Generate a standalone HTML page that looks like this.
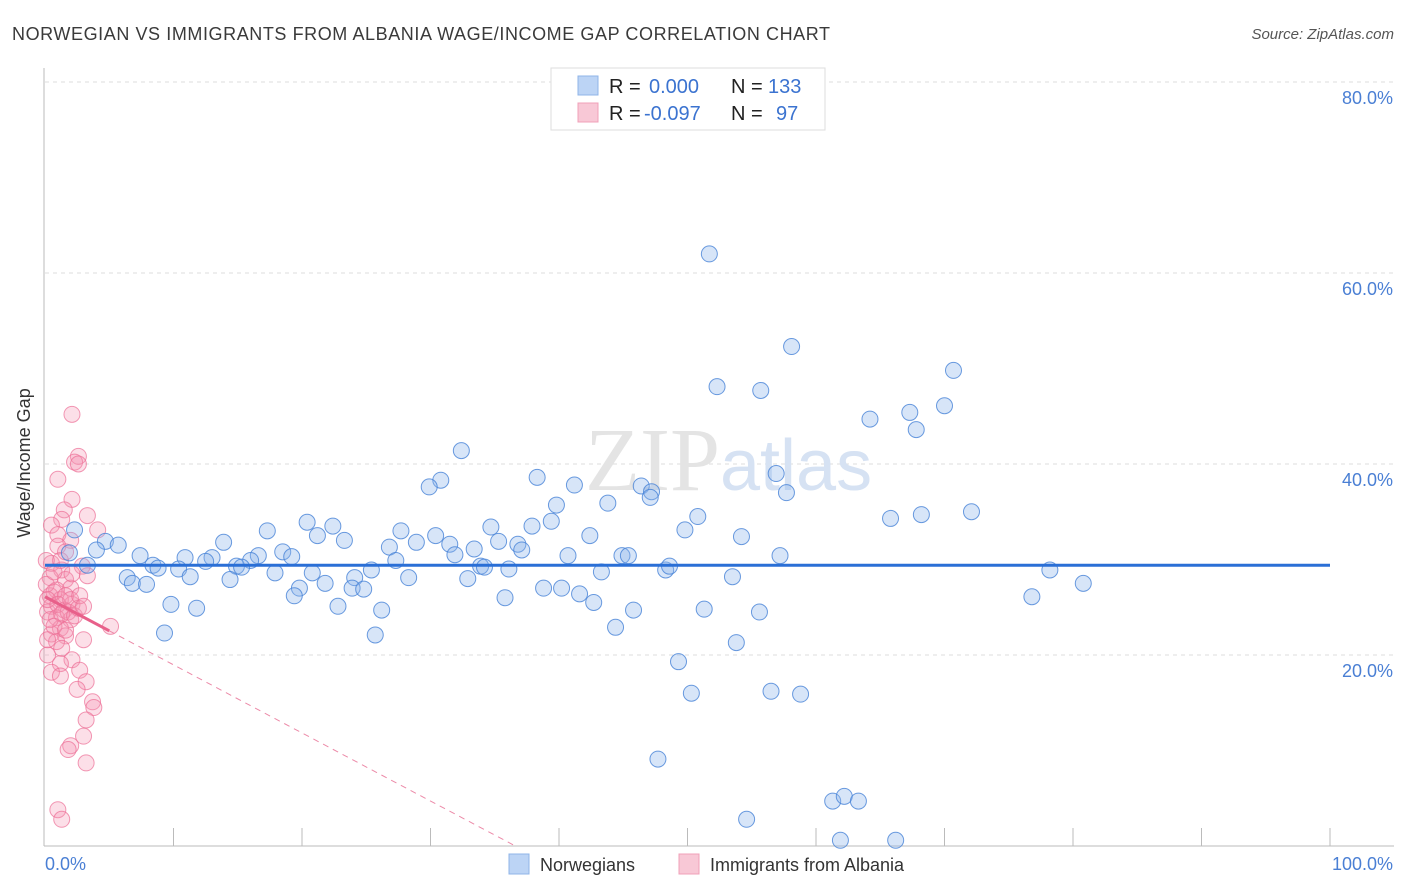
<!DOCTYPE html>
<html><head><meta charset="utf-8"><style>
body{margin:0;background:#fff;font-family:"Liberation Sans",sans-serif;}
#wrap{position:relative;width:1406px;height:892px;overflow:hidden;}
</style></head><body>
<div id="wrap">
<svg id="svg" width="1406" height="892" xmlns="http://www.w3.org/2000/svg">
<text x="12" y="40" font-size="18" fill="#3a3a3a" textLength="818">NORWEGIAN VS IMMIGRANTS FROM ALBANIA WAGE/INCOME GAP CORRELATION CHART</text>
<text x="1394" y="39" font-size="15" font-style="italic" fill="#555" text-anchor="end">Source: ZipAtlas.com</text>
<g id="grid"></g>
<text x="720" y="490" font-size="90" font-family="Liberation Serif,serif" fill="#e4e4e4" text-anchor="end">ZIP</text>
<text x="720" y="490" font-size="72" fill="#d6e2f3">atlas</text>
<g id="pts"></g>
<g id="trend"></g>
<text x="22" y="455" font-size="18" fill="#333" text-anchor="middle" transform="rotate(-90 30 455)">Wage/Income Gap</text>
<text x="45" y="870" font-size="18" fill="#4a7fd4">0.0%</text>
<text x="1393" y="870" font-size="18" fill="#4a7fd4" text-anchor="end">100.0%</text>
<g>
<rect x="551" y="68" width="274" height="62" fill="#fff" stroke="#ddd"/>
<rect x="578" y="76" width="20" height="19" fill="#bcd4f5" stroke="#8fb4e8"/>
<rect x="578" y="103" width="20" height="19" fill="#f8c8d6" stroke="#f0a0b8"/>
<text y="93" font-size="20"><tspan x="609" fill="#222">R =</tspan><tspan x="649" fill="#3b73d0">0.000</tspan><tspan x="731" fill="#222">N =</tspan><tspan x="768" fill="#3b73d0">133</tspan></text>
<text y="120" font-size="20"><tspan x="609" fill="#222">R =</tspan><tspan x="644" fill="#3b73d0">-0.097</tspan><tspan x="731" fill="#222">N =</tspan><tspan x="776" fill="#3b73d0">97</tspan></text>
</g>
<g>
<rect x="509" y="854" width="20" height="20" fill="#bcd4f5" stroke="#8fb4e8"/>
<text x="540" y="871" font-size="18" fill="#333">Norwegians</text>
<rect x="679" y="854" width="20" height="20" fill="#f8c8d6" stroke="#f0a0b8"/>
<text x="710" y="871" font-size="18" fill="#333">Immigrants from Albania</text>
</g>
</svg>
</div>
<script>
const yTicks=[20,40,60,80];
const yTickLabels=["20.0%","40.0%","60.0%","80.0%"];
const blueX=[51.7,58.1,70.7,52.3,55.7,70.0,67.3,64.2,67.8,32.4,38.3,30.8,29.9,41.2,46.4,56.9,47.2,47.1,57.7,39.8,43.8,39.4,50.8,65.8,68.2,72.1,49.8,20.4,22.4,34.7,37.9,27.7,17.3,21.2,23.3,30.4,42.4,54.2,13.9,28.9,31.5,36.8,26.8,33.4,35.3,37.1,4.7,5.7,4.0,2.3,1.9,16.6,18.5,7.4,10.9,13.0,16.0,19.2,27.3,31.9,40.7,44.9,45.4,57.2,3.3,8.4,8.8,10.4,12.5,14.9,15.3,25.4,33.9,34.2,36.1,48.3,48.6,78.2,6.4,11.3,17.9,20.8,24.1,28.3,32.9,43.3,53.5,6.8,7.9,14.4,19.8,21.8,23.9,24.8,38.8,40.2,80.8,19.4,41.6,35.8,42.7,76.8,9.8,11.8,22.8,26.2,45.8,51.3,55.6,44.4,9.3,25.7,53.8,49.3,50.3,56.5,58.8,47.7,61.3,62.2,63.3,54.6,61.9,66.2];
const blueY=[62.0,52.3,49.8,48.1,47.7,46.1,45.4,44.7,43.6,41.4,38.6,38.3,37.6,37.8,37.7,39.0,37.1,36.5,37.0,35.7,35.9,34.0,34.5,34.3,34.7,35.0,33.1,33.9,33.5,33.4,33.5,33.0,33.0,32.5,32.0,32.5,32.5,32.4,31.8,31.8,31.6,31.6,31.3,31.1,31.9,31.0,31.9,31.5,31.0,33.1,30.7,30.4,30.8,30.4,30.2,30.2,29.9,30.3,29.9,30.5,30.4,30.4,30.4,30.4,29.4,29.4,29.1,29.0,29.8,29.3,29.2,28.9,29.3,29.2,29.0,28.9,29.3,28.9,28.1,28.2,28.6,28.6,28.1,28.1,28.0,28.7,28.2,27.5,27.4,27.9,27.0,27.5,27.0,26.9,27.0,27.0,27.5,26.2,26.4,26.0,25.5,26.1,25.3,24.9,25.1,24.7,24.7,24.8,24.5,22.9,22.3,22.1,21.3,19.3,16.0,16.2,15.9,9.1,4.7,5.2,4.7,2.8,0.6,0.6];
const pinkX=[2.1,2.6,2.3,2.6,1.0,2.1,3.3,1.5,1.3,0.5,1.0,2.0,1.0,4.1,2.9,0.5,1.3,1.6,0.4,0.9,2.0,0.4,1.2,2.1,0.5,1.5,0.2,0.9,2.0,1.2,0.5,1.6,3.0,0.9,5.1,1.3,0.2,2.1,1.2,0.5,2.7,1.2,3.2,2.5,3.7,3.8,3.2,3.0,2.0,1.8,3.2,1.0,1.3,0.1,0.7,1.6,0.2,1.0,1.8,0.4,1.3,2.3,0.7,1.6,0.2,2.0,2.6,1.2,1.6,0.1,0.7,2.1,2.7,3.0,3.3];
const pinkY=[45.2,40.8,40.2,40.0,38.4,36.3,34.6,35.2,34.2,33.6,32.6,32.0,31.4,33.1,29.3,29.6,28.9,27.9,28.1,26.8,27.0,26.2,25.8,25.3,25.1,24.7,24.5,23.9,23.7,22.8,22.2,22.0,21.6,21.4,23.0,20.7,20.0,19.5,19.1,18.2,18.4,17.8,17.2,16.4,15.1,14.5,13.2,11.5,10.5,10.1,8.7,3.8,2.8,27.4,26.6,26.2,25.8,25.3,24.5,23.7,24.3,24.1,23.0,22.6,21.6,25.8,24.9,29.9,30.8,29.9,28.7,28.5,26.2,25.1,28.3];
const blueTrend=[29.4,29.4];
const pinkTrend=[26.1,-0.713];
const X0=45,X1=1330,Y0=846,PY=9.55;
const sx=v=>X0+v*(X1-X0)/100, sy=v=>Y0-v*PY;
const NS="http://www.w3.org/2000/svg";
function mk(t,a,p){const e=document.createElementNS(NS,t);for(const k in a)e.setAttribute(k,a[k]);p.appendChild(e);return e;}
const grid=document.getElementById('grid');
yTicks.forEach((t,i)=>{
 const l=mk('line',{x1:45,x2:1394,y1:sy(t),y2:sy(t),stroke:'#ddd','stroke-dasharray':'4,4'},grid);
 
 
 const tx=mk('text',{x:1393,y:sy(t)+22,'font-size':18,fill:'#4a7fd4','text-anchor':'end'},grid);
 tx.textContent=yTickLabels[i];
 
 
});
const ax=mk('line',{x1:44,x2:44,y1:68,y2:846,stroke:'#bbb'},grid);


const bx=mk('line',{x1:44,x2:1394,y1:846,y2:846,stroke:'#bbb'},grid);


for(let i=1;i<=10;i++){const t=mk('line',{x1:sx(i*10),x2:sx(i*10),y1:828,y2:846,stroke:'#bbb'},grid);
 
 }
const pts=document.getElementById('pts');
pinkX.forEach((x,i)=>{const c=mk('circle',{cx:sx(x),cy:sy(pinkY[i]),r:8,fill:'rgba(244,150,180,0.3)',stroke:'rgba(236,110,150,0.7)','stroke-width':1},pts);
 
 });
blueX.forEach((x,i)=>{const c=mk('circle',{cx:sx(x),cy:sy(blueY[i]),r:8,fill:'rgba(140,180,235,0.35)',stroke:'rgba(70,130,215,0.8)','stroke-width':1},pts);
 
 });
const tr=document.getElementById('trend');
const bl=mk('line',{x1:sx(0),x2:sx(100),y1:sy(blueTrend[0]),y2:sy(blueTrend[1]),stroke:'#2a6fd6','stroke-width':3},tr);


const pEnd=-pinkTrend[0]/pinkTrend[1];
const pd=mk('line',{x1:sx(5),y1:sy(pinkTrend[0]+pinkTrend[1]*5),x2:sx(pEnd),y2:sy(0),stroke:'#ec8aa8','stroke-width':1,'stroke-dasharray':'6,5'},tr);


const ps=mk('line',{x1:sx(0),y1:sy(pinkTrend[0]),x2:sx(5),y2:sy(pinkTrend[0]+pinkTrend[1]*5),stroke:'#e8608a','stroke-width':3},tr);


</script>
</body></html>
